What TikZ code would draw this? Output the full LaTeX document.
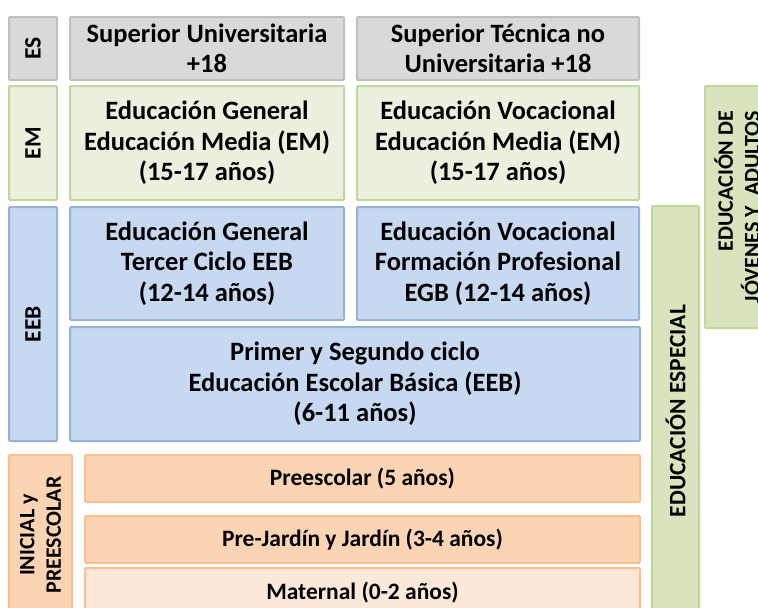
\documentclass[tikz,border=0pt]{standalone}
\usepackage{fontspec}
\setmainfont{Carlito}
\usepackage{tikz}
\usetikzlibrary{positioning}
\definecolor{esfill}{HTML}{D9D9D9}
\definecolor{esdraw}{HTML}{BFBFBF}
\definecolor{emfill}{HTML}{EBF1DE}
\definecolor{emdraw}{HTML}{C3D69B}
\definecolor{eebfill}{HTML}{C6D9F1}
\definecolor{eebdraw}{HTML}{95B3D7}
\definecolor{inifill}{HTML}{FBD4B4}
\definecolor{inidraw}{HTML}{FAC090}
\definecolor{matfill}{HTML}{FDE9D9}
\definecolor{espfill}{HTML}{D7E4BD}
\tikzset{every node/.append style={align=center, inner sep=0pt}}

\begin{document}
\begin{tikzpicture}[
    x=1pt, y=-1pt,
    font=\fontsize{26.5}{30.5}\selectfont\bfseries,
    box/.style={rectangle, rounded corners=1pt, line width=2pt},
    es/.style={box, draw=esdraw, fill=esfill},
    em/.style={box, draw=emdraw, fill=emfill},
    eeb/.style={box, draw=eebdraw, fill=eebfill},
    ini/.style={box, draw=inidraw, fill=inifill,
        font=\fontsize{23.5}{26}\selectfont\bfseries},
    esp/.style={box, draw=emdraw, fill=espfill},
    lbl/.style={rotate=90, font=\fontsize{23.5}{26}\selectfont\bfseries},
    lbltwo/.style={lbl, font=\fontsize{22}{26.5}\selectfont\bfseries}
]
\clip (0,0) rectangle (758,608);

% ===== ES =====
\node[es, lbl, minimum width=63pt, minimum height=48pt] (esl) at (33,48.5) {ES};
\node[es, minimum width=274pt, minimum height=63pt] (su) at (207,48.5)
    {Superior Universitaria\\+18};
\node[es, minimum width=282pt, minimum height=63pt] (st) at (498,48.5)
    {Superior Técnica no\\Universitaria +18};

% ===== EM =====
\node[em, lbl, minimum width=114pt, minimum height=48pt] (eml) at (33,143) {EM};
\node[em, minimum width=274pt, minimum height=114pt] (emg) at (207,143)
    {Educación General\\Educación Media (EM)\\(15-17 años)};
\node[em, minimum width=282pt, minimum height=114pt] (emv) at (498,143)
    {Educación Vocacional\\Educación Media (EM)\\(15-17 años)};

% ===== EEB =====
\node[eeb, lbl, minimum width=234pt, minimum height=48pt] (eebl) at (33,324) {EEB};
\node[eeb, minimum width=274pt, minimum height=113pt] (eebg) at (207,263.5)
    {Educación General\\Tercer Ciclo EEB\\(12-14 años)};
\node[eeb, minimum width=282pt, minimum height=113pt] (eebv) at (498,263.5)
    {Educación Vocacional\\Formación Profesional\\EGB (12-14 años)};
\node[eeb, minimum width=570pt, minimum height=114pt] (eebp) at (355,384)
    {Primer y Segundo ciclo\\Educación Escolar Básica (EEB)\\(6-11 años)};

% ===== side columns =====
\node[esp, lbl, minimum width=410pt, minimum height=47pt] (esp) at (675.5,411)
    {EDUCACIÓN ESPECIAL};
\node[esp, lbltwo, align=right, minimum width=242pt, minimum height=64pt] (jov) at (737,207)
    {EDUCACIÓN DE\\JÓVENES Y\ \ ADULTOS};

% ===== INICIAL =====
\node[ini, lbltwo, minimum width=160pt, minimum height=63pt] (inil) at (40.5,535)
    {INICIAL y\\PREESCOLAR};
\node[ini, minimum width=555pt, minimum height=47pt] (pre) at (362.5,478.5)
    {Preescolar (5 años)};
\node[ini, minimum width=555pt, minimum height=47pt] (jar) at (362.5,539.5)
    {Pre-Jardín y Jardín (3-4 años)};
\node[ini, fill=matfill, minimum width=555pt, minimum height=50pt] (mat) at (362.5,593)
    {Maternal (0-2 años)};
\end{tikzpicture}
\end{document}
